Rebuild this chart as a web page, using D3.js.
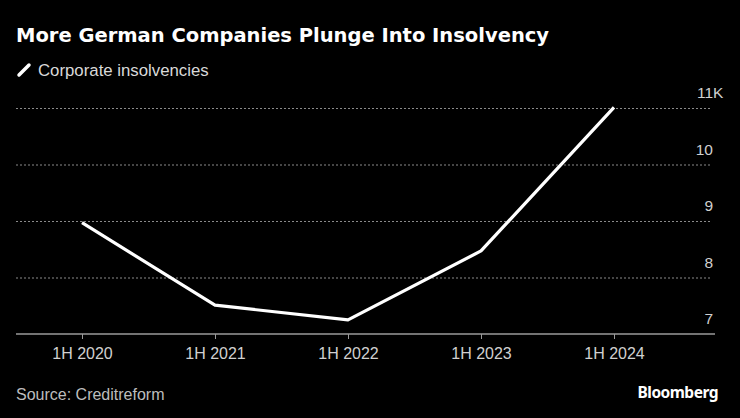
<!DOCTYPE html>
<html lang="en">
<head>
    <meta charset="UTF-8">
    <title>More German Companies Plunge Into Insolvency</title>
    <style>
        body {
            margin: 0;
            background: #000;
        }
        svg text {
            font-family: "Liberation Sans", Arial, sans-serif;
        }
    </style>
    <script src="https://d3js.org/d3.v7.min.js"></script>
</head>
<body>
    <div id="chart"></div>

    <script>
        const periods = ["1H 2020", "1H 2021", "1H 2022", "1H 2023", "1H 2024"];
        const insolvencies = [8970, 7510, 7250, 8470, 11010];
        const yTicks = [7000, 8000, 9000, 10000, 11000];

        const width = 740;
        const height = 418;

        const svg = d3.select("#chart")
            .append("svg")
            .attr("width", width)
            .attr("height", height)
            .style("background", "#000");

        const x = d3.scalePoint()
            .domain(periods)
            .range([82, 614]);

        const y = d3.scaleLinear()
            .domain([7000, 11000])
            .range([334, 108]);

        // title + legend
        svg.append("text")
            .attr("x", 16)
            .attr("y", 42)
            .attr("fill", "#fff")
            .attr("font-size", 19.5)
            .attr("font-weight", "bold")
            .style("font-family", "'DejaVu Sans', sans-serif")
            .text("More German Companies Plunge Into Insolvency");

        svg.append("line")
            .attr("x1", 19).attr("y1", 75)
            .attr("x2", 29).attr("y2", 65)
            .attr("stroke", "#fff")
            .attr("stroke-width", 3.5)
            .attr("stroke-linecap", "round");

        svg.append("text")
            .attr("x", 38)
            .attr("y", 76)
            .attr("fill", "#d9d9d9")
            .attr("font-size", 16.8)
            .text("Corporate insolvencies");

        // grid
        svg.append("g")
            .selectAll("line")
            .data(yTicks.slice(1))
            .join("line")
            .attr("x1", 16)
            .attr("x2", 712)
            .attr("y1", d => y(d) + 0.5)
            .attr("y2", d => y(d) + 0.5)
            .attr("stroke", "#8a8a8a")
            .attr("stroke-width", 1)
            .attr("stroke-dasharray", "2,2");

        // y labels on the right, above the lines; the K hangs past the column
        svg.append("g")
            .selectAll("text")
            .data(yTicks)
            .join("text")
            .attr("x", 713)
            .attr("y", d => y(d) - 10)
            .attr("text-anchor", "end")
            .attr("fill", "#d0d0d0")
            .attr("font-size", 15.5)
            .text(d => d / 1000);

        svg.append("text")
            .attr("x", 713)
            .attr("y", y(11000) - 10)
            .attr("fill", "#d0d0d0")
            .attr("font-size", 15.5)
            .text("K");

        // x axis
        const xAxis = svg.append("g")
            .attr("transform", `translate(0,${y(7000)})`)
            .call(d3.axisBottom(x).tickSize(5).tickPadding(9));

        xAxis.select(".domain").remove();
        xAxis.append("line")
            .attr("x1", 16)
            .attr("x2", 715)
            .attr("stroke", "#9a9a9a")
            .attr("stroke-width", 1.5);
        xAxis.selectAll(".tick line").attr("stroke", "#9a9a9a");
        xAxis.selectAll(".tick text")
            .attr("fill", "#d0d0d0")
            .attr("font-size", 16)
            .style("font-family", "'Liberation Sans', sans-serif");

        // the line
        const line = d3.line()
            .x((d, i) => x(periods[i]))
            .y(d => y(d));

        svg.append("path")
            .datum(insolvencies)
            .attr("fill", "none")
            .attr("stroke", "#fff")
            .attr("stroke-width", 3.2)
            .attr("stroke-linejoin", "round")
            .attr("d", line);

        // footer
        svg.append("text")
            .attr("x", 16)
            .attr("y", 400)
            .attr("fill", "#bdbdbd")
            .attr("font-size", 16)
            .text("Source: Creditreform");

        svg.append("text")
            .attr("x", 718)
            .attr("y", 398)
            .attr("text-anchor", "end")
            .attr("fill", "#fff")
            .attr("font-size", 15.5)
            .attr("font-weight", "bold")
            .style("font-family", "'Noto Sans', sans-serif")
            .style("letter-spacing", "-0.5px")
            .text("Bloomberg");
    </script>
</body>
</html>
